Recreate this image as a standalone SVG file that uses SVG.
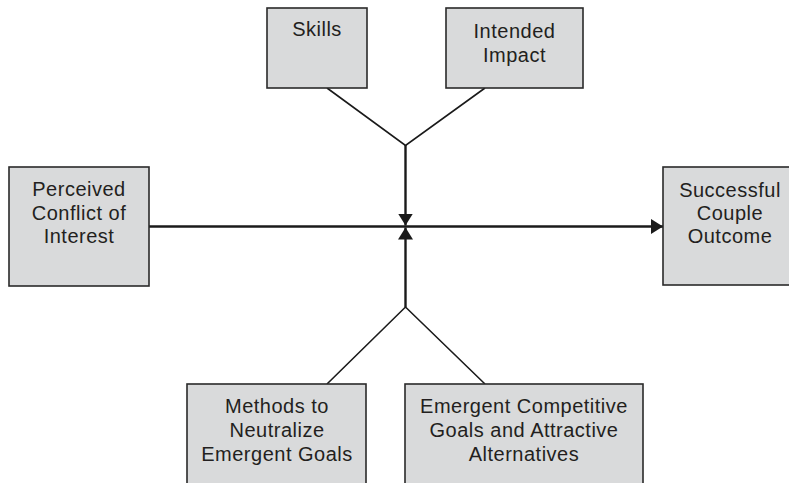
<svg xmlns="http://www.w3.org/2000/svg" width="789" height="483" viewBox="0 0 789 483">
<style>
.box{fill:#d9dadb;stroke:#2a2a2a;stroke-width:1.6}
.t{font-family:"Liberation Sans",Arial,sans-serif;font-size:20px;fill:#231f20;text-anchor:middle;letter-spacing:0.5px}
.ln{stroke:#1a1a1a;stroke-width:2.4;fill:none}
.dg{stroke:#1a1a1a;stroke-width:1.6;fill:none}
</style>
<defs>
<marker id="ah" viewBox="0 0 12 15" refX="12" refY="7.5" markerWidth="12" markerHeight="15" markerUnits="userSpaceOnUse" orient="auto">
<path d="M0,0 L12,7.5 L0,15 Z" fill="#1a1a1a"/>
</marker>
</defs>
<rect width="789" height="483" fill="#ffffff"/>
<g id="connectors">
<path class="dg" d="M327,88 L405.5,145.5 L485,88"/>
<path class="dg" d="M327,384 L405.5,307 L485,384"/>
<line class="ln" x1="405.5" y1="145" x2="405.5" y2="225.5" marker-end="url(#ah)"/>
<line class="ln" x1="405.5" y1="307" x2="405.5" y2="227.5" marker-end="url(#ah)"/>
<line class="ln" x1="149" y1="226.5" x2="663" y2="226.5" marker-end="url(#ah)"/>
</g>
<g id="skills">
<rect class="box" x="267" y="8" width="100" height="80"/>
<text class="t" x="317" y="36">Skills</text>
</g>
<g id="intended-impact">
<rect class="box" x="446" y="8" width="137" height="80"/>
<text class="t" x="514.5" y="38">Intended</text>
<text class="t" x="514.5" y="62">Impact</text>
</g>
<g id="perceived-conflict">
<rect class="box" x="9" y="167" width="140" height="119"/>
<text class="t" x="79" y="196">Perceived</text>
<text class="t" x="79" y="220">Conflict of</text>
<text class="t" x="79" y="243">Interest</text>
</g>
<g id="successful-outcome">
<rect class="box" x="663" y="167" width="136" height="118"/>
<text class="t" x="730" y="197">Successful</text>
<text class="t" x="730" y="220">Couple</text>
<text class="t" x="730" y="243">Outcome</text>
</g>
<g id="methods">
<rect class="box" x="187" y="384" width="179" height="110"/>
<text class="t" x="277" y="413">Methods to</text>
<text class="t" x="277" y="437">Neutralize</text>
<text class="t" x="277" y="461">Emergent Goals</text>
</g>
<g id="emergent-goals">
<rect class="box" x="405" y="384" width="238" height="110"/>
<text class="t" x="524" y="413">Emergent Competitive</text>
<text class="t" x="524" y="437">Goals and Attractive</text>
<text class="t" x="524" y="461">Alternatives</text>
</g>
</svg>
